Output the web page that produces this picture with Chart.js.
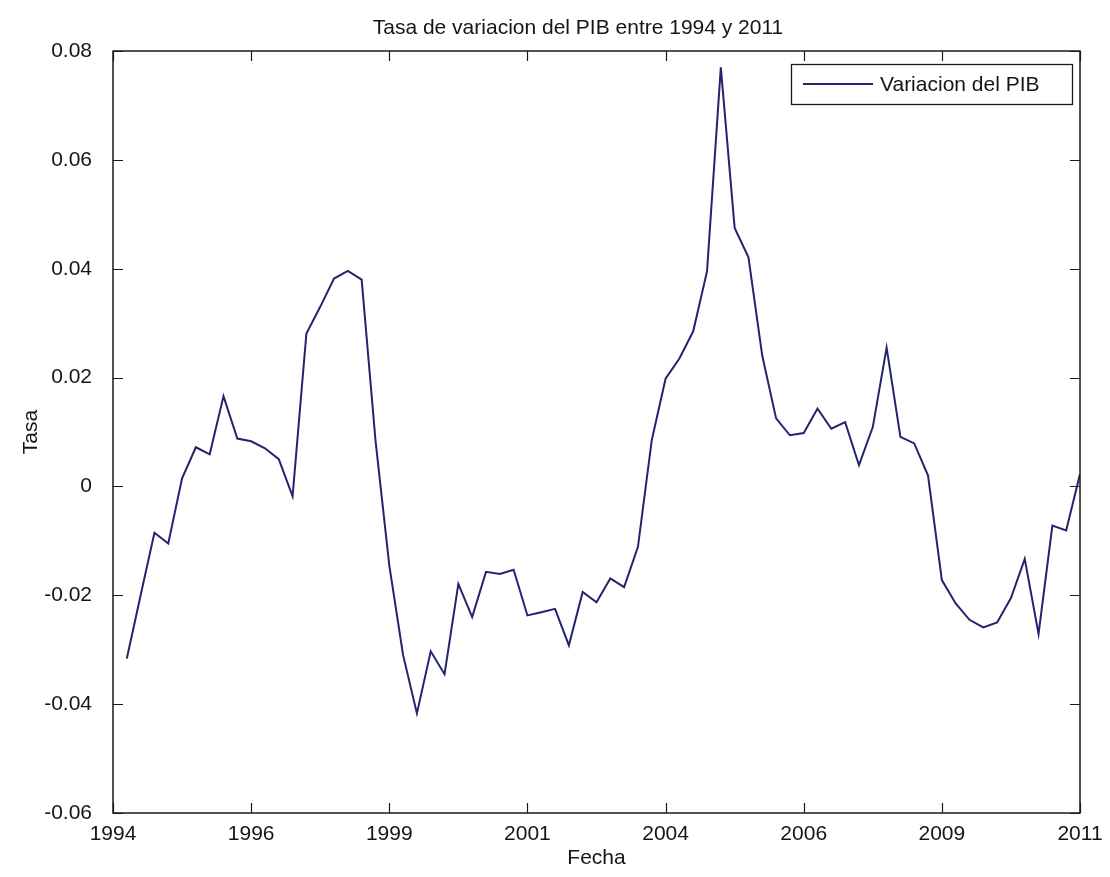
<!DOCTYPE html>
<html>
<head>
<meta charset="utf-8">
<title>Tasa de variacion del PIB</title>
<script src="https://cdn.jsdelivr.net/npm/chart.js@4.4.1/dist/chart.umd.min.js"></script>
<style>
  html, body { margin: 0; padding: 0; background: #fff; }
  #wrap { width: 1110px; height: 877px; }
</style>
</head>
<body>
<div id="wrap"><canvas id="pibChart" width="1110" height="877"></canvas></div>
<script>
// tasa de variacion trimestral del PIB, 70 trimestres (1994 - 2011)
const tasaPIB = [
  -0.0316, -0.0200, -0.0085, -0.0105, 0.0015, 0.0072, 0.0059, 0.0166, 0.0088, 0.0083,
  0.0070, 0.0050, -0.0018, 0.0281, 0.0330, 0.0382, 0.0396, 0.0380, 0.0085, -0.0145,
  -0.0310, -0.0417, -0.0303, -0.0345, -0.0179, -0.0240, -0.0157, -0.0161, -0.0153, -0.0237,
  -0.0231, -0.0225, -0.0292, -0.0194, -0.0213, -0.0169, -0.0185, -0.0111, 0.0085, 0.0198,
  0.0235, 0.0285, 0.0395, 0.0770, 0.0475, 0.0421, 0.0240, 0.0125, 0.0094, 0.0098,
  0.0143, 0.0106, 0.0118, 0.0039, 0.0109, 0.0255, 0.0091, 0.0079, 0.0020, -0.0172,
  -0.0215, -0.0245, -0.0259, -0.0250, -0.0205, -0.0133, -0.0271, -0.0072, -0.0081, 0.0023
];

// eje x: indice de trimestre, etiquetas con el año
const xTickPos = [0, 10, 20, 30, 40, 50, 60, 70];
const xTickLabels = ['1994', '1996', '1999', '2001', '2004', '2006', '2009', '2011'];

const yTickPos = [-0.06, -0.04, -0.02, 0, 0.02, 0.04, 0.06, 0.08];
const yTickLabels = ['-0.06', '-0.04', '-0.02', '0', '0.02', '0.04', '0.06', '0.08'];

const lineColor = '#24246e';
const textColor = '#151515';
const fontFamily = '"Liberation Sans", Arial, Helvetica, sans-serif';

Chart.defaults.font.family = fontFamily;
Chart.defaults.font.size = 21;
Chart.defaults.color = textColor;

const puntos = tasaPIB.map(function(v, i) {
  return { x: i + 1, y: v };
});

// fondo blanco, caja con marcas hacia dentro, titulo y leyenda
const marcoPlugin = {
  id: 'marco',
  beforeDraw: function(chart) {
    const ctx = chart.ctx;
    ctx.save();
    ctx.fillStyle = '#ffffff';
    ctx.fillRect(0, 0, chart.width, chart.height);
    ctx.restore();
  },
  afterDatasetsDraw: function(chart) {
    const ctx = chart.ctx;
    const area = chart.chartArea;
    const xs = chart.scales.x;
    const ys = chart.scales.y;
    const tick = 10;

    ctx.save();
    ctx.strokeStyle = '#1a1a1a';
    ctx.lineWidth = 1.5;
    ctx.strokeRect(area.left, area.top, area.right - area.left, area.bottom - area.top);

    ctx.beginPath();
    xTickPos.forEach(function(v) {
      const px = Math.round(xs.getPixelForValue(v)) + 0.5;
      ctx.moveTo(px, area.bottom);
      ctx.lineTo(px, area.bottom - tick);
      ctx.moveTo(px, area.top);
      ctx.lineTo(px, area.top + tick);
    });
    yTickPos.forEach(function(v) {
      const py = Math.round(ys.getPixelForValue(v)) + 0.5;
      ctx.moveTo(area.left, py);
      ctx.lineTo(area.left + tick, py);
      ctx.moveTo(area.right, py);
      ctx.lineTo(area.right - tick, py);
    });
    ctx.lineWidth = 1.2;
    ctx.stroke();

    // titulo
    ctx.fillStyle = textColor;
    ctx.font = '21px ' + fontFamily;
    ctx.textAlign = 'center';
    ctx.textBaseline = 'alphabetic';
    ctx.fillText('Tasa de variacion del PIB entre 1994 y 2011', 578, 34);

    // leyenda
    const lx = area.right - 289;
    const ly = area.top + 13;
    ctx.fillStyle = '#ffffff';
    ctx.fillRect(lx, ly, 281, 40);
    ctx.strokeStyle = '#1a1a1a';
    ctx.lineWidth = 1.3;
    ctx.strokeRect(lx + 0.5, ly + 0.5, 281, 40);

    ctx.strokeStyle = lineColor;
    ctx.lineWidth = 2;
    ctx.beginPath();
    ctx.moveTo(lx + 12, ly + 20);
    ctx.lineTo(lx + 82, ly + 20);
    ctx.stroke();

    ctx.fillStyle = textColor;
    ctx.textAlign = 'left';
    ctx.textBaseline = 'middle';
    ctx.fillText(chart.data.datasets[0].label, lx + 89, ly + 21);
    ctx.restore();
  }
};

const ctx = document.getElementById('pibChart').getContext('2d');

new Chart(ctx, {
  type: 'line',
  data: {
    datasets: [{
      label: 'Variacion del PIB',
      data: puntos,
      borderColor: lineColor,
      borderWidth: 2,
      pointRadius: 0,
      tension: 0,
      fill: false
    }]
  },
  options: {
    responsive: false,
    animation: false,
    layout: {
      padding: { top: 51, right: 30, bottom: 0, left: 0 }
    },
    scales: {
      x: {
        type: 'linear',
        min: 0,
        max: 70,
        grid: { display: false },
        border: { display: false },
        afterBuildTicks: function(scale) {
          scale.ticks = xTickPos.map(function(v) { return { value: v }; });
        },
        afterFit: function(scale) {
          scale.height = 64;
        },
        ticks: {
          padding: 1,
          maxRotation: 0,
          autoSkip: false,
          callback: function(value) {
            const i = xTickPos.indexOf(value);
            return i >= 0 ? xTickLabels[i] : '';
          }
        },
        title: {
          display: true,
          text: 'Fecha',
          padding: { top: 0, bottom: 6 }
        }
      },
      y: {
        min: -0.06,
        max: 0.08,
        grid: { display: false },
        border: { display: false },
        afterBuildTicks: function(scale) {
          scale.ticks = yTickPos.map(function(v) { return { value: v }; });
        },
        afterFit: function(scale) {
          scale.width = 113;
        },
        ticks: {
          padding: 13,
          autoSkip: false,
          callback: function(value) {
            const i = yTickPos.findIndex(function(p) { return Math.abs(p - value) < 1e-9; });
            return i >= 0 ? yTickLabels[i] : '';
          }
        },
        title: {
          display: true,
          text: 'Tasa',
          padding: { top: 19, bottom: 0 }
        }
      }
    },
    plugins: {
      legend: { display: false },
      tooltip: { enabled: false }
    }
  },
  plugins: [marcoPlugin]
});
</script>
</body>
</html>
